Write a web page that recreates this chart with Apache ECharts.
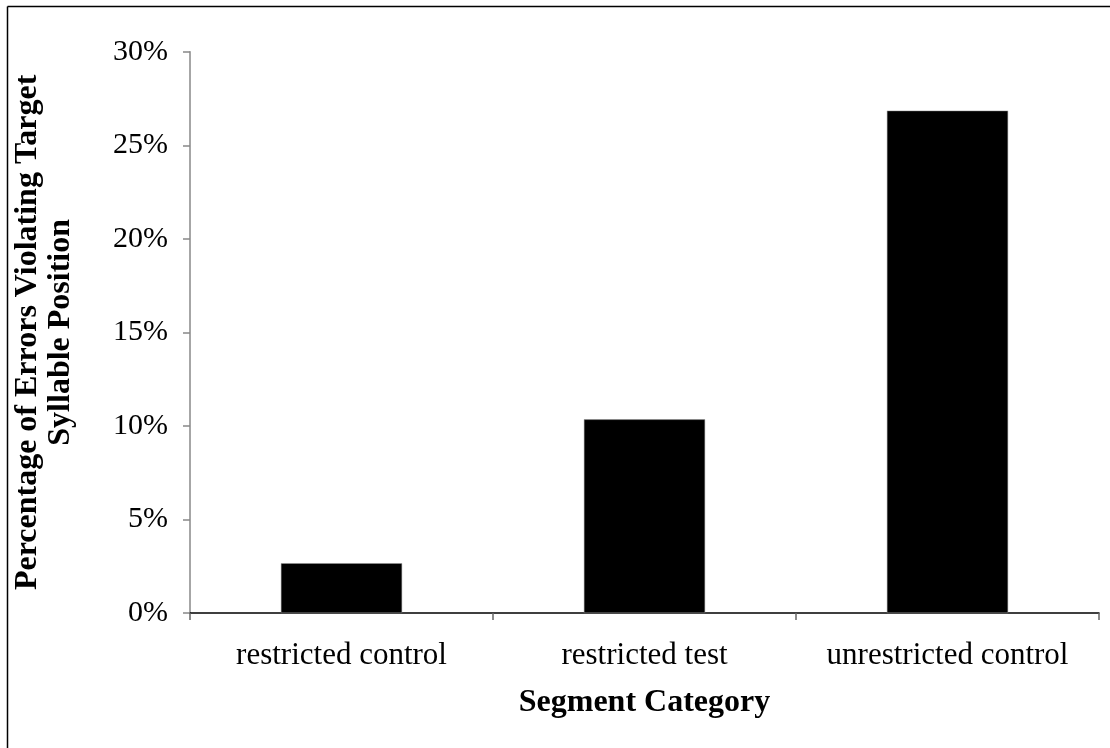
<!DOCTYPE html>
<html>
<head>
<meta charset="utf-8">
<script src="https://cdn.jsdelivr.net/npm/echarts@6/dist/echarts.min.js"></script>
<style>
html,body{margin:0;padding:0;background:#fff;}
#chart{width:1110px;height:748px;}
</style>
</head>
<body>
<div id="chart"></div>
<script>
var categories = ['restricted control', 'restricted test', 'unrestricted control'];
var values = [2.66, 10.35, 26.85];
var yTicks = { min: 0, max: 30, interval: 5 };
var xTitle = 'Segment Category';
var yTitle = 'Percentage of Errors Violating Target\nSyllable Position';

var FONT = '"Liberation Serif", "Times New Roman", serif';
var chart = echarts.init(document.getElementById('chart'), null, { renderer: 'canvas' });
chart.setOption({
  backgroundColor: '#fff',
  animation: false,
  graphic: [
    { type: 'line', shape: { x1: 7.5, y1: 6.5, x2: 1110, y2: 6.5 }, style: { stroke: '#000', lineWidth: 1.5 } },
    { type: 'line', shape: { x1: 7.5, y1: 6.5, x2: 7.5, y2: 748 }, style: { stroke: '#000', lineWidth: 1.5 } }
  ],
  grid: { left: 190, right: 11, top: 51.7, bottom: 135, containLabel: false },
  xAxis: {
    type: 'category',
    data: categories,
    name: xTitle,
    nameLocation: 'middle',
    nameGap: 74,
    nameTextStyle: { fontFamily: FONT, fontWeight: 'bold', fontSize: 32, color: '#000' },
    axisLine: { show: true, lineStyle: { color: '#000', width: 1.5 } },
    axisTick: { show: true, alignWithLabel: false, length: 7, lineStyle: { color: '#666', width: 1.5 } },
    axisLabel: { interval: 0, fontFamily: FONT, fontSize: 31, color: '#000', margin: 27 },
    splitLine: { show: false }
  },
  yAxis: {
    type: 'value',
    min: yTicks.min,
    max: yTicks.max,
    interval: yTicks.interval,
    name: yTitle,
    nameLocation: 'middle',
    nameRotate: 90,
    nameGap: 113,
    nameTextStyle: { fontFamily: FONT, fontWeight: 'bold', fontSize: 32, color: '#000', lineHeight: 33, align: 'center' },
    axisLine: { show: true, lineStyle: { color: '#888', width: 1.5 } },
    axisTick: { show: true, length: 7, lineStyle: { color: '#888', width: 1.5 } },
    axisLabel: { fontFamily: FONT, fontSize: 30, color: '#000', margin: 22, formatter: '{value}%' },
    splitLine: { show: false }
  },
  series: [{
    type: 'bar',
    data: values,
    barCategoryGap: '60%',
    itemStyle: { color: '#000', borderColor: '#999', borderWidth: 0.5 }
  }]
});
</script>
</body>
</html>
